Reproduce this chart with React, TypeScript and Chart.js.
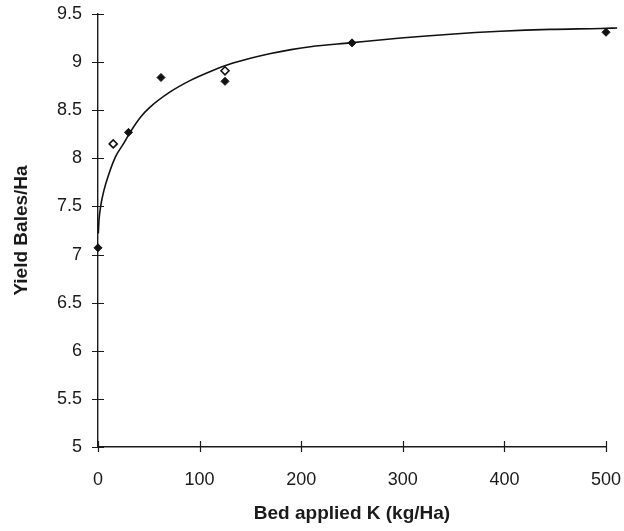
import React, { useEffect, useRef } from "react";
import { Chart, registerables } from "chart.js";

Chart.register(...registerables);

// Observed yields (filled diamonds)
const filledX = [0, 30, 62, 125, 250, 500];
const filledY = [7.07, 8.27, 8.84, 8.8, 9.2, 9.31];
// Observed yields (open diamonds)
const openX = [15, 125];
const openY = [8.15, 8.91];
// Fitted response curve
const curveX = [0.3, 1, 2.6, 5.9, 10.8, 17.4, 25.6, 32.2, 42, 51, 71, 91, 110, 130, 150, 170, 190, 209, 248, 298, 347, 396, 445, 495, 511];
const curveY = [7.22, 7.36, 7.5, 7.67, 7.84, 8.02, 8.16, 8.28, 8.43, 8.53, 8.69, 8.81, 8.9, 8.98, 9.04, 9.09, 9.13, 9.16, 9.2, 9.25, 9.29, 9.32, 9.34, 9.35, 9.355];
// Axis ticks
const xTicks = [0, 100, 200, 300, 400, 500];
const yTicks = [5, 5.5, 6, 6.5, 7, 7.5, 8, 8.5, 9, 9.5];

const xTitle = "Bed applied K (kg/Ha)";
const yTitle = "Yield Bales/Ha";

const FONT = "'Liberation Sans', Arial, sans-serif";

const crossTicks = {
  id: "crossTicks",
  afterDraw(chart: any) {
    const { ctx, chartArea, scales } = chart;
    const x = scales.x;
    const y = scales.y;
    ctx.save();
    ctx.strokeStyle = "#1a1a1a";
    ctx.lineWidth = 1.2;
    ctx.beginPath();
    y.ticks.forEach((t: any) => {
      const py = Math.round(y.getPixelForValue(t.value)) + 0.5;
      ctx.moveTo(chartArea.left - 6, py);
      ctx.lineTo(chartArea.left + 6, py);
    });
    x.ticks.forEach((t: any) => {
      const px = Math.round(x.getPixelForValue(t.value)) + 0.5;
      ctx.moveTo(px, chartArea.bottom - 6);
      ctx.lineTo(px, chartArea.bottom + 5);
    });
    ctx.stroke();
    ctx.restore();
  },
};

export default function App() {
  const ref = useRef<HTMLCanvasElement | null>(null);

  useEffect(() => {
    document.body.style.margin = "0";
    const canvas = ref.current;
    if (!canvas) return;
    const chart = new Chart(canvas, {
      type: "scatter",
      data: {
        datasets: [
          {
            type: "line",
            label: "fit",
            data: curveX.map((v, i) => ({ x: v, y: curveY[i] })),
            borderColor: "#111",
            borderWidth: 1.6,
            pointRadius: 0,
            fill: false,
            tension: 0.4,
            cubicInterpolationMode: "monotone",
            clip: false,
          } as any,
          {
            label: "filled",
            data: filledX.map((v, i) => ({ x: v, y: filledY[i] })),
            pointStyle: "rectRot",
            pointRadius: 4,
            backgroundColor: "#111",
            borderColor: "#111",
            borderWidth: 1,
            clip: false,
          } as any,
          {
            label: "open",
            data: openX.map((v, i) => ({ x: v, y: openY[i] })),
            pointStyle: "rectRot",
            pointRadius: 4,
            backgroundColor: "#fff",
            borderColor: "#111",
            borderWidth: 1.6,
            clip: false,
          } as any,
        ],
      },
      options: {
        animation: false,
        responsive: false,
        maintainAspectRatio: false,
        layout: { padding: { top: 14, right: 18, left: 0, bottom: 0 } },
        plugins: {
          legend: { display: false },
          tooltip: { enabled: false },
        },
        scales: {
          x: {
            type: "linear",
            min: 0,
            max: 500,
            afterBuildTicks: (s: any) => {
              s.ticks = xTicks.map((v) => ({ value: v }));
            },
            afterFit: (s: any) => {
              s.height = 84;
              s.paddingLeft = 0;
              s.paddingRight = 0;
            },
            grid: { display: false, drawTicks: false },
            border: { display: true, color: "#1a1a1a", width: 1.4 },
            ticks: {
              color: "#1a1a1a",
              padding: 22,
              font: { family: FONT, size: 18 },
              maxRotation: 0,
              callback: (v: any) => String(v),
            },
            title: {
              display: true,
              text: xTitle,
              color: "#1a1a1a",
              font: { family: FONT, size: 19, weight: "bold" },
              padding: { top: 0, bottom: 6 },
            },
          },
          y: {
            type: "linear",
            min: 5,
            max: 9.5,
            afterBuildTicks: (s: any) => {
              s.ticks = yTicks.map((v) => ({ value: v }));
            },
            afterFit: (s: any) => {
              s.width = 98;
              s.paddingTop = 0;
              s.paddingBottom = 0;
            },
            grid: { display: false, drawTicks: false },
            border: { display: true, color: "#1a1a1a", width: 1.4 },
            ticks: {
              color: "#1a1a1a",
              padding: 16,
              font: { family: FONT, size: 18 },
              callback: (v: any) => String(v),
            },
            title: {
              display: true,
              text: yTitle,
              color: "#1a1a1a",
              font: { family: FONT, size: 19, weight: "bold" },
              padding: { top: 10, bottom: 0 },
            },
          },
        },
      },
      plugins: [crossTicks],
    });
    return () => chart.destroy();
  }, []);

  return (
    <div style={{ width: 624, height: 531, background: "#fff" }}>
      <canvas ref={ref} width={624} height={531} />
    </div>
  );
}
